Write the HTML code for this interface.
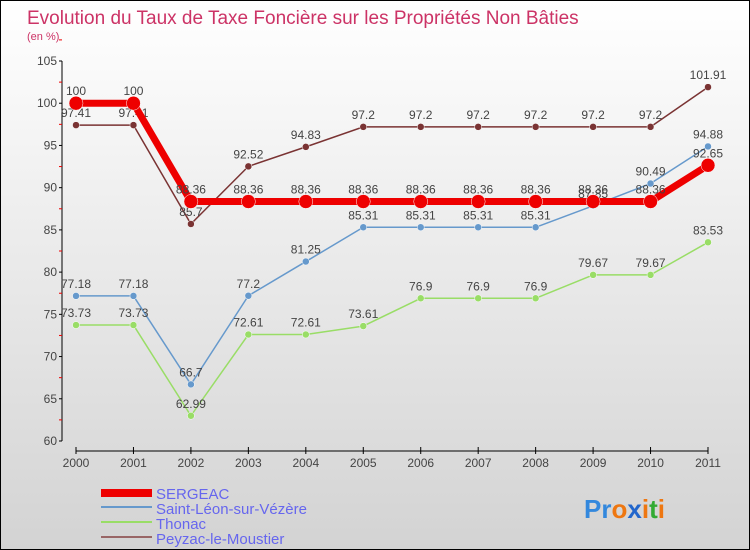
<!DOCTYPE html>
<html><head><meta charset="utf-8"><style>
body{margin:0;}
#c{position:relative;width:750px;height:550px;box-sizing:border-box;border:1px solid #000;background:linear-gradient(#ffffff,#d3d3d3);font-family:"Liberation Sans",sans-serif;overflow:hidden}
</style></head><body>
<div id="c">
<svg id="s" width="750" height="550" style="position:absolute;left:0;top:0">
<text x="26" y="23" font-size="19" fill="#cc3366">Evolution du Taux de Taxe Foncière sur les Propriétés Non Bâties</text>
<text x="26" y="39" font-size="11" fill="#cc3366">(en %)</text>
<g id="axes"></g><g id="series"></g>
<g>
<rect x="100" y="488" width="51" height="8" fill="#e00"/>
<text x="155" y="498" font-size="15" fill="#6666ee">SERGEAC</text>
<line x1="100" x2="151" y1="506" y2="506" stroke="#6699cc" stroke-width="2"/>
<text x="155" y="513" font-size="15" fill="#6666ee">Saint-Léon-sur-Vézère</text>
<line x1="100" x2="151" y1="521" y2="521" stroke="#99dd66" stroke-width="2"/>
<text x="155" y="528" font-size="15" fill="#6666ee">Thonac</text>
<line x1="100" x2="151" y1="536" y2="536" stroke="#996666" stroke-width="2"/>
<text x="155" y="543" font-size="15" fill="#6666ee">Peyzac-le-Moustier</text>
</g>
<g font-size="26" font-weight="bold">
<text x="583" y="517"><tspan fill="#3388dd">Pr</tspan><tspan fill="#ee7711">o</tspan><tspan fill="#2266cc">x</tspan><tspan fill="#ee7711">i</tspan><tspan fill="#33aa33">t</tspan><tspan fill="#ee7711">i</tspan></text>
</g>
</svg>
</div>
<script>
const years=["2000","2001","2002","2003","2004","2005","2006","2007","2008","2009","2010","2011"];
const yTicks=[60,65,70,75,80,85,90,95,100,105];
const sergeac=[100,100,88.36,88.36,88.36,88.36,88.36,88.36,88.36,88.36,88.36,92.65];
const saintLeon=[77.18,77.18,66.7,77.2,81.25,85.31,85.31,85.31,85.31,87.85,90.49,94.88];
const thonac=[73.73,73.73,62.99,72.61,72.61,73.61,76.9,76.9,76.9,79.67,79.67,83.53];
const peyzac=[97.41,97.41,85.7,92.52,94.83,97.2,97.2,97.2,97.2,97.2,97.2,101.91];
const NS="http://www.w3.org/2000/svg";
function X(i){return 75+i*(707-75)/(years.length-1);}
function Y(v){return 440-(v-60)*(440-60)/45;}
function mk(t,a,p){const e=document.createElementNS(NS,t);for(const k in a)e.setAttribute(k,a[k]);p.appendChild(e);return e;}
const ax=document.getElementById('axes');
let l=mk('line',{x1:61,x2:61,y1:Y(105),y2:440,stroke:'#000'},ax);


yTicks.forEach(v=>{
 mk('line',{x1:58,x2:61,y1:Y(v),y2:Y(v),stroke:'#000'},ax);
 mk('line',{x1:58,x2:61,y1:Y(v+2.5),y2:Y(v+2.5),stroke:'#e00'},ax);
 const t=mk('text',{x:56,y:Y(v)+4,'font-size':12,'text-anchor':'end',fill:'#444'},ax);t.textContent=v;
 
 
});
l=mk('line',{x1:75,x2:707,y1:450,y2:450,stroke:'#000'},ax);


years.forEach((y,i)=>{
 mk('line',{x1:X(i),x2:X(i),y1:446,y2:453,stroke:'#000'},ax);
 const t=mk('text',{x:X(i),y:466,'font-size':12,'text-anchor':'middle',fill:'#444'},ax);t.textContent=y;
 
 
});
const sg=document.getElementById('series');
function draw(data,color,w,r,name){
 const g=mk('g',{},sg);
 
 
 mk('polyline',{points:data.map((v,i)=>X(i)+','+Y(v)).join(' '),fill:'none',stroke:color,'stroke-width':w,'stroke-linejoin':'round'},g);
 data.forEach((v,i)=>{
  const c=mk('circle',{cx:X(i),cy:Y(v),r:r,fill:color,stroke:'#fff','stroke-width':0.5},g);
  
  
  const t=mk('text',{x:X(i),y:Y(v)-8,'font-size':12,'text-anchor':'middle',fill:'#444'},g);t.textContent=v;
  
  
 });
}
draw(saintLeon,'#6699cc',1.5,3.5,'saint-leon');
draw(thonac,'#99dd66',1.5,3.5,'thonac');
draw(peyzac,'#7a3333',1.5,3.5,'peyzac');
draw(sergeac,'#ee0000',7,7,'sergeac');
</script>
</body></html>
